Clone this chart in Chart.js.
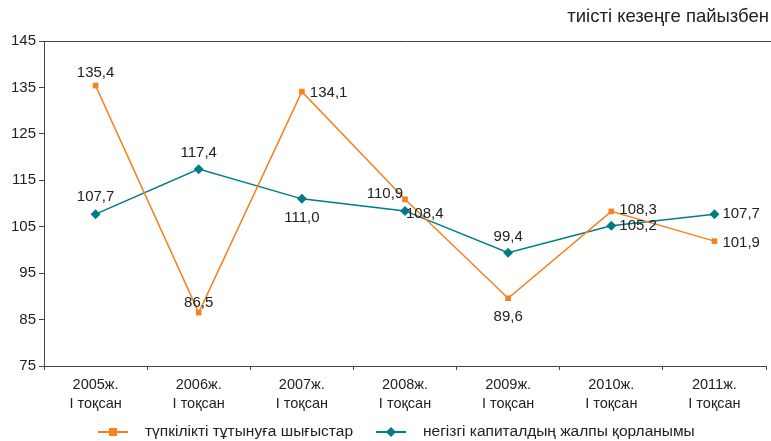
<!DOCTYPE html>
<html>
<head>
<meta charset="utf-8">
<script src="https://cdn.jsdelivr.net/npm/chart.js@4"></script>
<style>
  body { margin: 0; background: #fff; }
  canvas { display: block; }
</style>
</head>
<body>
<canvas id="myChart" width="771" height="441"></canvas>
<script>
var years = ['2005ж.', '2006ж.', '2007ж.', '2008ж.', '2009ж.', '2010ж.', '2011ж.'];
var quarter = 'I тоқсан';
var consumption = [135.4, 86.5, 134.1, 110.9, 89.6, 108.3, 101.9];
var capital = [107.7, 117.4, 111.0, 108.4, 99.4, 105.2, 107.7];
var seriesNames = ['түпкілікті тұтынуға шығыстар', 'негізгі капиталдың жалпы қорланымы'];
var unitNote = 'тиісті кезеңге пайызбен';

var ORANGE = '#F5821F';
var TEAL = '#007C89';
var FONT = "'Liberation Sans', Arial, sans-serif";

// label placement per point: [dx, dy, align]
var orangeLabelPos = [[0, -13, 'center'], [0, -10, 'center'], [8, 1, 'left'], [-20, -5, 'center'],
  [0, 19, 'center'], [8, -2, 'left'], [8, 2, 'left']];
var tealLabelPos = [[0, -17, 'center'], [0, -16, 'center'], [0, 19, 'center'], [1, 3, 'left'],
  [0, -16, 'center'], [8, 0, 'left'], [8, 0, 'left']];

var labelPlugin = {
  id: 'extras',
  afterDraw: function (chart) {
    var ctx = chart.ctx;
    var area = chart.chartArea;
    ctx.save();
    // top border line
    ctx.strokeStyle = '#444';
    ctx.lineWidth = 1;
    ctx.beginPath();
    ctx.moveTo(area.left, area.top + 0.5);
    ctx.lineTo(chart.width, area.top + 0.5);
    ctx.stroke();

    // value labels
    ctx.font = '15px ' + FONT;
    ctx.fillStyle = '#222';
    ctx.textBaseline = 'middle';
    var posSets = [orangeLabelPos, tealLabelPos];
    chart.data.datasets.forEach(function (ds, di) {
      var meta = chart.getDatasetMeta(di);
      meta.data.forEach(function (pt, i) {
        var p = posSets[di][i];
        ctx.textAlign = p[2];
        ctx.fillText(ds.data[i].toFixed(1).replace('.', ','), pt.x + p[0], pt.y + p[1]);
      });
    });

    // unit note
    ctx.font = '18.5px ' + FONT;
    ctx.textAlign = 'right';
    ctx.fillText(unitNote, 769, 17);

    // legend
    ctx.font = '15.5px ' + FONT;
    ctx.textAlign = 'left';
    var legendY = 432;
    var items = [[ORANGE, 'rect', 98, seriesNames[0]], [TEAL, 'rectRot', 376, seriesNames[1]]];
    items.forEach(function (it) {
      ctx.strokeStyle = it[0];
      ctx.fillStyle = it[0];
      ctx.lineWidth = 2;
      ctx.beginPath();
      ctx.moveTo(it[2], legendY);
      ctx.lineTo(it[2] + 30, legendY);
      ctx.stroke();
      var cx = it[2] + 15;
      ctx.beginPath();
      if (it[1] === 'rect') {
        ctx.rect(cx - 4, legendY - 4, 8, 8);
      } else {
        ctx.moveTo(cx, legendY - 5);
        ctx.lineTo(cx + 5, legendY);
        ctx.lineTo(cx, legendY + 5);
        ctx.lineTo(cx - 5, legendY);
        ctx.closePath();
      }
      ctx.fill();
      ctx.fillStyle = '#222';
      ctx.fillText(it[3], it[2] + 47, legendY);
    });
    ctx.restore();
  }
};

var data = {
  labels: years.map(function (y) { return [y, quarter]; }),
  datasets: [{
    label: seriesNames[0],
    data: consumption,
    borderColor: ORANGE,
    backgroundColor: ORANGE,
    borderWidth: 1.5,
    pointStyle: 'rect',
    pointRadius: 4,
    pointBorderWidth: 0,
    tension: 0
  }, {
    label: seriesNames[1],
    data: capital,
    borderColor: TEAL,
    backgroundColor: TEAL,
    borderWidth: 1.5,
    pointStyle: 'rectRot',
    pointRadius: 5,
    pointBorderWidth: 0,
    tension: 0
  }]
};

const config = {
  type: 'line',
  data: data,
  plugins: [labelPlugin],
  options: {
    responsive: false,
    animation: false,
    layout: { padding: { top: 41, right: 0, left: 0, bottom: 0 } },
    plugins: {
      legend: { display: false },
      tooltip: { enabled: false }
    },
    scales: {
      x: {
        offset: true,
        grid: { display: true, offset: true, drawOnChartArea: false, tickLength: 4, color: '#444' },
        border: { color: '#444', width: 1 },
        ticks: { color: '#222', font: { family: FONT, size: 14.5, lineHeight: 1.35 }, padding: 5, maxRotation: 0 },
        afterFit: function (scale) { scale.height = 75; }
      },
      y: {
        min: 75,
        max: 145,
        grid: { display: true, drawOnChartArea: false, tickLength: 5, color: '#444' },
        border: { color: '#444', width: 1 },
        ticks: { stepSize: 10, color: '#222', font: { family: FONT, size: 15 }, padding: 3 },
        afterFit: function (scale) { scale.width = 44; }
      }
    }
  }
};

var myChart = new Chart(document.getElementById('myChart'), config);
</script>
</body>
</html>
